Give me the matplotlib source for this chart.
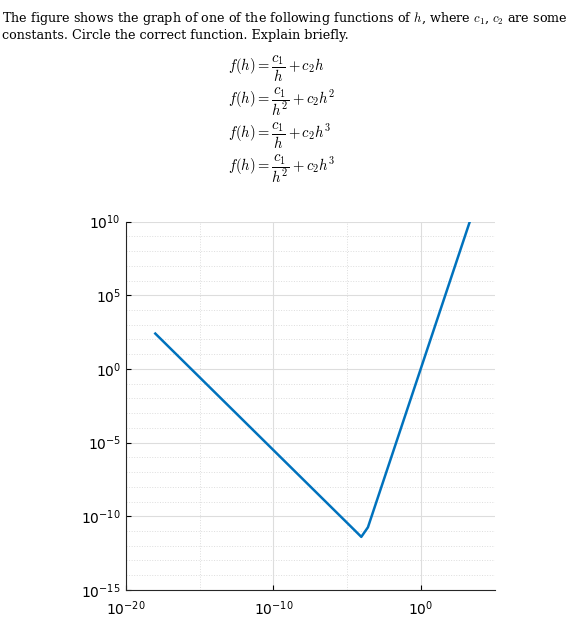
import matplotlib.pyplot as plt
import numpy as np
from matplotlib.ticker import FixedLocator, NullFormatter

# values (log10 of h and f at the line's vertices)
logH = [-18.0, -4.5, -4.05, -3.6, 3.3]
logF = [2.4, -10.95, -11.4, -10.75, 10.0]
h = [10**v for v in logH]
f = [10**v for v in logF]

xMajor = [1e-20, 1e-10, 1e0]
xMinor = [1e-15, 1e-5]
yMajor = [10.0**k for k in range(-15, 11, 5)]
yMinor = [10.0**k for k in range(-15, 11) if k % 5]

intro = ['The figure shows the graph of one of the following functions of $h$, where $c_1$, $c_2$ are some',
         'constants. Circle the correct function. Explain briefly.']
funcs = [r'$f(h) = \dfrac{c_1}{h} + c_2 h$',
         r'$f(h) = \dfrac{c_1}{h^2} + c_2 h^2$',
         r'$f(h) = \dfrac{c_1}{h} + c_2 h^3$',
         r'$f(h) = \dfrac{c_1}{h^2} + c_2 h^3$']

fig = plt.figure(figsize=(5.85, 6.35), dpi=100)
for i, line in enumerate(intro):
    fig.text(0.003, 0.985 - i*0.03, line, ha='left', va='top', family='DejaVu Serif',
             fontsize=9.2, math_fontfamily='cm')
for i, line in enumerate(funcs):
    fig.text(0.39, 0.892 - i*0.053, line, ha='left', va='center', family='DejaVu Serif',
             fontsize=10.5, math_fontfamily='cm')

ax = fig.add_axes([0.215, 0.071, 0.631, 0.58])
ax.loglog(h, f, color='#0072BD', lw=1.8)
ax.set_xlim(1e-20, 1e5)
ax.set_ylim(1e-15, 1e10)
ax.xaxis.set_major_locator(FixedLocator(xMajor))
ax.xaxis.set_minor_locator(FixedLocator(xMinor))
ax.yaxis.set_major_locator(FixedLocator(yMajor))
ax.yaxis.set_minor_locator(FixedLocator(yMinor))
ax.xaxis.set_minor_formatter(NullFormatter())
ax.yaxis.set_minor_formatter(NullFormatter())
ax.grid(True, which='major', color='#dddddd', lw=0.8)
ax.grid(True, which='minor', color='#dddddd', lw=0.7, linestyle=':')
ax.tick_params(which='both', direction='in', labelsize=10)
ax.tick_params(axis='x', pad=7)
ax.tick_params(which='minor', length=0)
for s in ax.spines.values():
    s.set_color('#262626')
ax.spines['top'].set_visible(False)
ax.spines['right'].set_visible(False)

plt.savefig('out.png', dpi=100)
